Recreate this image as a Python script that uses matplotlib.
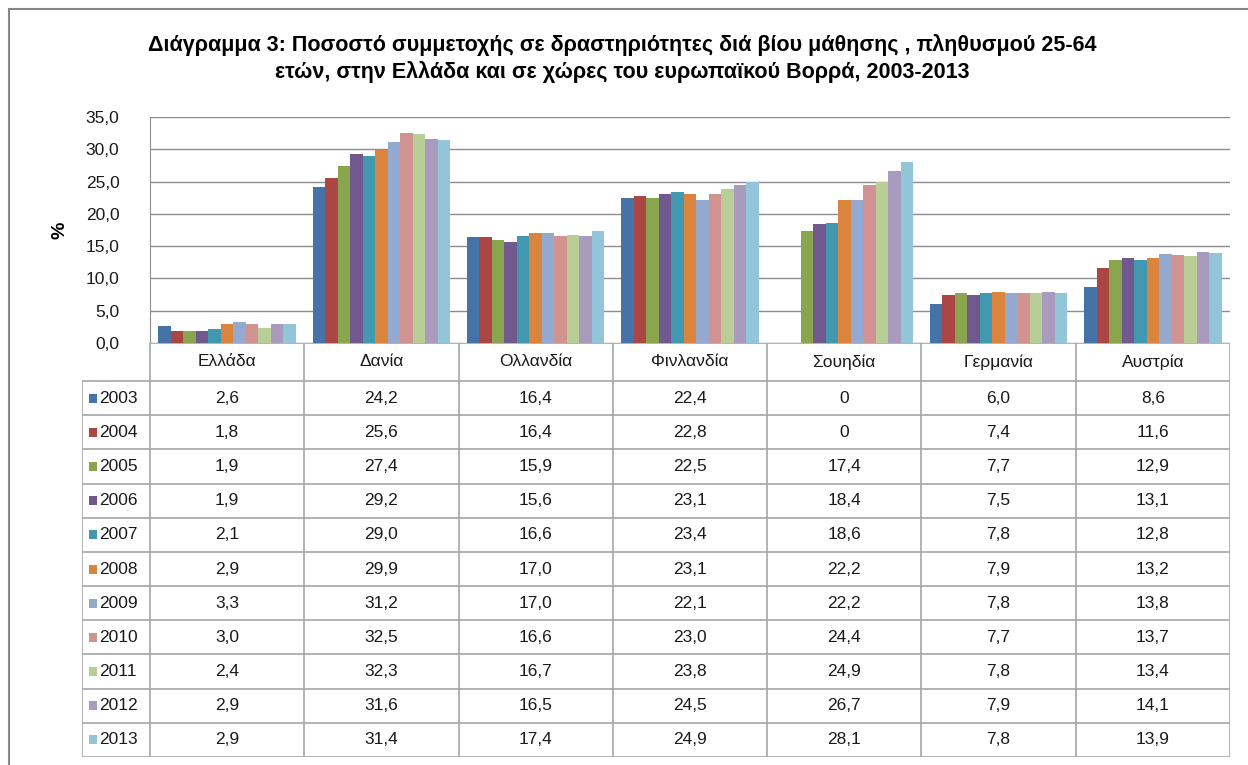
import matplotlib
matplotlib.use("Agg")
import matplotlib.pyplot as plt
from matplotlib.lines import Line2D
from matplotlib.patches import Rectangle
import numpy as np

countries = ["Ελλάδα", "Δανία", "Ολλανδία", "Φινλανδία", "Σουηδία", "Γερμανία", "Αυστρία"]
years = ["2003", "2004", "2005", "2006", "2007", "2008", "2009", "2010", "2011", "2012", "2013"]

# one list per year, values per country
v2003 = [2.6, 24.2, 16.4, 22.4, 0, 6.0, 8.6]
v2004 = [1.8, 25.6, 16.4, 22.8, 0, 7.4, 11.6]
v2005 = [1.9, 27.4, 15.9, 22.5, 17.4, 7.7, 12.9]
v2006 = [1.9, 29.2, 15.6, 23.1, 18.4, 7.5, 13.1]
v2007 = [2.1, 29.0, 16.6, 23.4, 18.6, 7.8, 12.8]
v2008 = [2.9, 29.9, 17.0, 23.1, 22.2, 7.9, 13.2]
v2009 = [3.3, 31.2, 17.0, 22.1, 22.2, 7.8, 13.8]
v2010 = [3.0, 32.5, 16.6, 23.0, 24.4, 7.7, 13.7]
v2011 = [2.4, 32.3, 16.7, 23.8, 24.9, 7.8, 13.4]
v2012 = [2.9, 31.6, 16.5, 24.5, 26.7, 7.9, 14.1]
v2013 = [2.9, 31.4, 17.4, 24.9, 28.1, 7.8, 13.9]
series = [v2003, v2004, v2005, v2006, v2007, v2008, v2009, v2010, v2011, v2012, v2013]

colors = ["#4572A7", "#AA4643", "#89A54E", "#71588F", "#4198AF", "#DB843D",
          "#93A9CF", "#D19392", "#B9CD96", "#A99BBD", "#92C5D8"]

W, H = 1248, 765
fig = plt.figure(figsize=(W / 100, H / 100), dpi=100)

def fx(x):
    return x / W

def fy(y):
    return 1 - y / H

txt = "#1a1a1a"
gridc = "#8c8c8c"
tablec = "#a6a6a6"
fnt = ["Liberation Sans", "DejaVu Sans"]

# outer border of the chart area (right and bottom edges fall outside the picture)
fig.add_artist(Line2D([fx(9), fx(9)], [fy(9), fy(770)], color="#868686", lw=1.5))
fig.add_artist(Line2D([fx(9), fx(1260)], [fy(9), fy(9)], color="#868686", lw=1.5))

fig.text(fx(622), fy(45), "Διάγραμμα 3: Ποσοστό συμμετοχής σε δραστηριότητες διά βίου μάθησης , πληθυσμού 25-64",
         ha="center", va="center", fontsize=15.5, fontweight="bold", family=fnt, color="black")
fig.text(fx(622), fy(72), "ετών, στην Ελλάδα και σε χώρες του ευρωπαϊκού Βορρά, 2003-2013",
         ha="center", va="center", fontsize=15.5, fontweight="bold", family=fnt, color="black")

# chart axes
x0, x1, y0, y1 = 150, 1230, 117, 343
ax = fig.add_axes([fx(x0), fy(y1), (x1 - x0) / W, (y1 - y0) / H])
n = len(years)
bw = 12.5 / ((x1 - x0) / len(countries))
xs = np.arange(len(countries))
for j, vals in enumerate(series):
    ax.bar(xs + (j - (n - 1) / 2) * bw, vals, width=bw, color=colors[j], zorder=3, linewidth=0)

ax.set_xlim(-0.5, len(countries) - 0.5)
ax.set_ylim(0, 35)
ax.set_yticks(np.arange(0, 35.1, 5))
ax.set_yticklabels([f"{t:.1f}".replace(".", ",") for t in np.arange(0, 35.1, 5)],
                   fontsize=12.5, family=fnt, color=txt)
ax.tick_params(axis="y", length=0, pad=22)
ax.set_xticks([])
ax.grid(axis="y", color=gridc, lw=1, zorder=0)
for s in ["top", "right", "bottom"]:
    ax.spines[s].set_visible(False)
ax.spines["left"].set_color(gridc)
fig.text(fx(60), fy(230), "%", rotation=90, ha="center", va="center",
         fontsize=14, fontweight="bold", family=fnt)

# data table below the chart
tx0, ty1 = 82, 757
hdr = 381
rh = (ty1 - hdr) / n
colw = (x1 - x0) / len(countries)
t = fig.add_axes([fx(tx0), fy(ty1), (x1 - tx0) / W, (ty1 - y1) / H])
t.set_xlim(tx0, x1)
t.set_ylim(ty1, y1)
t.axis("off")

kw = dict(color=tablec, lw=1.2, solid_capstyle="butt")
t.plot([x0, x1], [y1, y1], **kw)
for c in range(len(countries) + 1):
    t.plot([x0 + c * colw] * 2, [y1, ty1], **kw)
t.plot([tx0, tx0], [hdr, ty1], **kw)
for r in range(n + 1):
    t.plot([tx0, x1], [hdr + r * rh] * 2, **kw)

for c, name in enumerate(countries):
    t.text(x0 + (c + 0.5) * colw, (y1 + hdr) / 2, name, ha="center", va="center",
           fontsize=12.5, family=fnt, color=txt)

for r, (yr, vals) in enumerate(zip(years, series)):
    yc = hdr + (r + 0.5) * rh
    t.add_patch(Rectangle((89, yc - 4.5), 8, 9, color=colors[r], lw=0))
    t.text(99, yc, yr, ha="left", va="center", fontsize=12.5, family=fnt, color=txt)
    for c, v in enumerate(vals):
        s = "0" if v == 0 else f"{v:.1f}".replace(".", ",")
        t.text(x0 + (c + 0.5) * colw, yc, s, ha="center", va="center",
               fontsize=12.5, family=fnt, color=txt)

fig.savefig("out.png", dpi=100)
